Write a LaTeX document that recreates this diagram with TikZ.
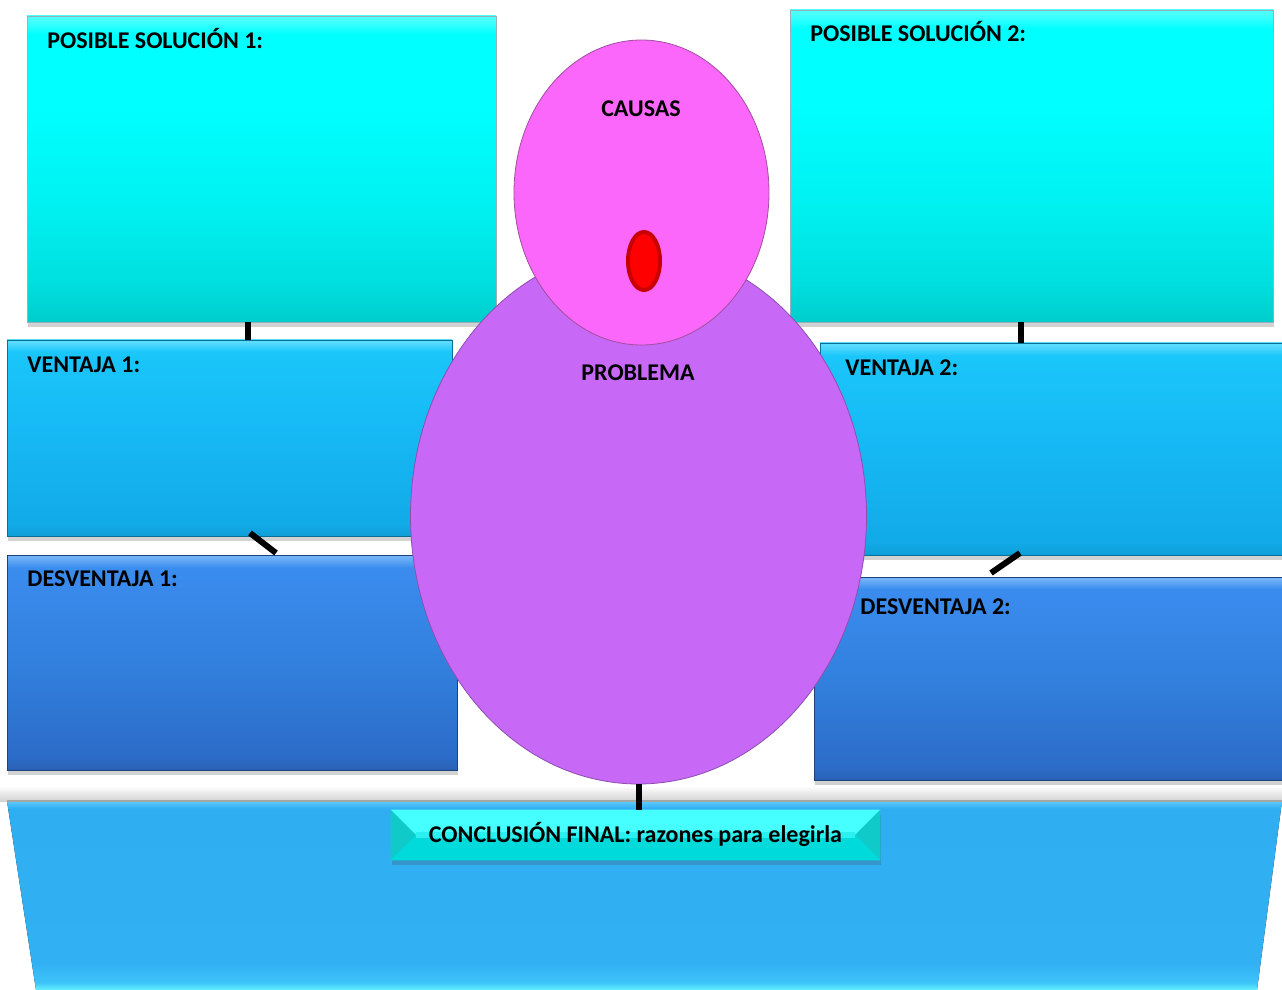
\documentclass[tikz,border=0pt]{standalone}
\usepackage{fontspec}
\setmainfont{Carlito}
\usetikzlibrary{fit,shapes.geometric,shadows,calc}
\definecolor{cyTop}{HTML}{00FFFF}
\definecolor{cyBot}{HTML}{00CCCC}
\definecolor{probC}{HTML}{C768F7}
\definecolor{probE}{HTML}{8E4FB0}
\definecolor{causC}{HTML}{FB66FB}
\definecolor{causE}{HTML}{A050A0}
\definecolor{eyeE}{HTML}{C80000}
\definecolor{cnTop}{HTML}{46FFFF}
\definecolor{cnBot}{HTML}{00DADA}
\definecolor{cnSide}{HTML}{10CACA}
\pgfdeclareverticalshading{cyshade}{100bp}{color(0bp)=(cyBot); color(25bp)=(cyBot); color(32bp)=(cyBot!60!cyTop); color(45bp)=(cyBot!25!cyTop); color(60bp)=(cyTop); color(72bp)=(cyTop); color(74.5bp)=(cyTop!70!white); color(100bp)=(cyTop!70!white)}
\definecolor{vA}{HTML}{0E9ED8}
\definecolor{vB}{HTML}{12AAE8}
\definecolor{vC}{HTML}{16B8F4}
\definecolor{vD}{HTML}{1AC6FA}
\definecolor{vE}{HTML}{5ADCFF}
\pgfdeclareverticalshading{venshade}{100bp}{color(0bp)=(vA); color(25bp)=(vA); color(28bp)=(vB); color(50bp)=(vC); color(72bp)=(vD); color(74.5bp)=(vE); color(100bp)=(vE)}
\definecolor{dA}{HTML}{2A60B4}
\definecolor{dB}{HTML}{2C6CC8}
\definecolor{dC}{HTML}{3280DE}
\definecolor{dD}{HTML}{3A8CEE}
\definecolor{dE}{HTML}{72B2F8}
\pgfdeclareverticalshading{desshade}{100bp}{color(0bp)=(dA); color(25bp)=(dA); color(28bp)=(dB); color(50bp)=(dC); color(72bp)=(dD); color(74.5bp)=(dE); color(100bp)=(dE)}
\definecolor{bA}{HTML}{66F2FF}
\definecolor{bB}{HTML}{3CC4F8}
\definecolor{bC}{HTML}{32B0F4}
\definecolor{bD}{HTML}{30AEF2}
\definecolor{bE}{HTML}{5CCCFA}
\pgfdeclareverticalshading{baseshade}{100bp}{color(0bp)=(bA); color(25bp)=(bA); color(27bp)=(bB); color(32bp)=(bC); color(73bp)=(bD); color(75bp)=(bE); color(100bp)=(bE)}
\begin{document}
\begin{tikzpicture}[x=0.5pt,y=-0.5pt,
  shadowed/.style={drop shadow={shadow xshift=0.5pt,shadow yshift=-2.5pt,opacity=0.25,fill=black!70}},
  solbox/.style={inner sep=0pt,draw=cyan!40!black!50,line width=0.4pt,shading=cyshade,shadowed},
  venbox/.style={inner sep=0pt,draw=vA!70!black,line width=0.4pt,shading=venshade,shadowed},
  desbox/.style={inner sep=0pt,draw=dA!70!black,line width=0.4pt,shading=desshade,shadowed},
  lbl/.style={font=\bfseries\fontsize{12}{14}\selectfont,inner sep=0pt,text=black},
  conn/.style={line width=3pt,black}
]
\useasboundingbox[fill=white] (0,0) rectangle (1282,990);

% boxes
\node[solbox,fit={(27,16) (496,322)}] (ps1) {};
\node[solbox,fit={(790,10) (1273,322)}] (ps2) {};
\node[venbox,fit={(7,340) (452,536)}] (v1) {};
\node[desbox,fit={(7,555) (457,770)}] (d1) {};
\node[venbox,fit={(820,343) (1282,555)}] (v2) {};
\node[desbox,fit={(814,577) (1282,780)}] (d2) {};

% connectors
\coordinate (c1) at (248,0);
\coordinate (c2) at (1021,0);
\draw[conn] (ps1.south -| c1) -- (v1.north -| c1);
\draw[conn] (ps2.south -| c2) -- (v2.north -| c2);
\coordinate (k1a) at (250,533);
\coordinate (k1b) at (276,553);
\coordinate (k2a) at (1020,553);
\coordinate (k2b) at (991,573);
\draw[conn] (k1a) -- (k1b);
\draw[conn] (k2a) -- (k2b);

% base trapezoid
\coordinate (b1) at (7,801);
\coordinate (b2) at (1282,801);
\coordinate (b3) at (1257,990);
\coordinate (b4) at (36,990);
\fill[top color=white,bottom color=gray!35] (0,786) rectangle (1282,801);
\fill[shading=baseshade] (b1) -- (b2) -- (b3) -- (b4) -- cycle;
\draw[gray!70,line width=0.6pt] (b1) -- (b2);

% conclusion box with bevel
\node[inner sep=0pt,fit={(391,810) (880,860)},fill=cnBot,shadowed] (concl) {};
\coordinate (ci1) at (416,835);
\coordinate (ci2) at (855,835);
\fill[cnTop] (concl.north west) -- (concl.north east) -- (ci2) -- (ci1) -- cycle;
\fill[cnSide] (concl.north west) -- (ci1) -- (concl.south west) -- cycle;
\fill[cnSide] (concl.north east) -- (ci2) -- (concl.south east) -- cycle;
\fill[cnBot] (concl.south west) -- (ci1) -- (ci2) -- (concl.south east) -- cycle;
\fill[cnTop!60!cnBot] (ci1) ++(0,-3) rectangle ($(ci2)+(0,3)$);

% central ellipses
\node[ellipse,minimum width=228pt,minimum height=268pt,inner sep=0pt,fill=probC,draw=probE,line width=0.4pt] (prob) at (638.5,516) {};
\draw[conn] (prob.south) -- (prob.south |- concl.north);
\node[ellipse,minimum width=127.5pt,minimum height=152.5pt,inner sep=0pt,fill=causC,draw=causE,line width=0.4pt] (causas) at (641.5,192.5) {};
\node[ellipse,minimum width=16pt,minimum height=29pt,inner sep=0pt,fill=red,draw=eyeE,line width=2pt] (eye) at (644,261) {};

% labels
\node[lbl,anchor=base west] (tps1) at (47,49) {POSIBLE SOLUCIÓN 1:};
\node[lbl,anchor=base west] (tps2) at (810,42) {POSIBLE SOLUCIÓN 2:};
\node[lbl,anchor=base west] (tv1) at (27,372) {VENTAJA 1:};
\node[lbl,anchor=base west] (td1) at (27,586) {DESVENTAJA 1:};
\node[lbl,anchor=base west] (tv2) at (845,376) {VENTAJA 2:};
\node[lbl,anchor=base west] (td2) at (860,614) {DESVENTAJA 2:};
\node[lbl,anchor=base] (tcaus) at (641,117) {CAUSAS};
\node[lbl,anchor=base] (tprob) at (638,380) {PROBLEMA};
\node[lbl,anchor=base] (tconcl) at (635.5,842) {CONCLUSIÓN FINAL: razones para elegirla};
\end{tikzpicture}
\end{document}
